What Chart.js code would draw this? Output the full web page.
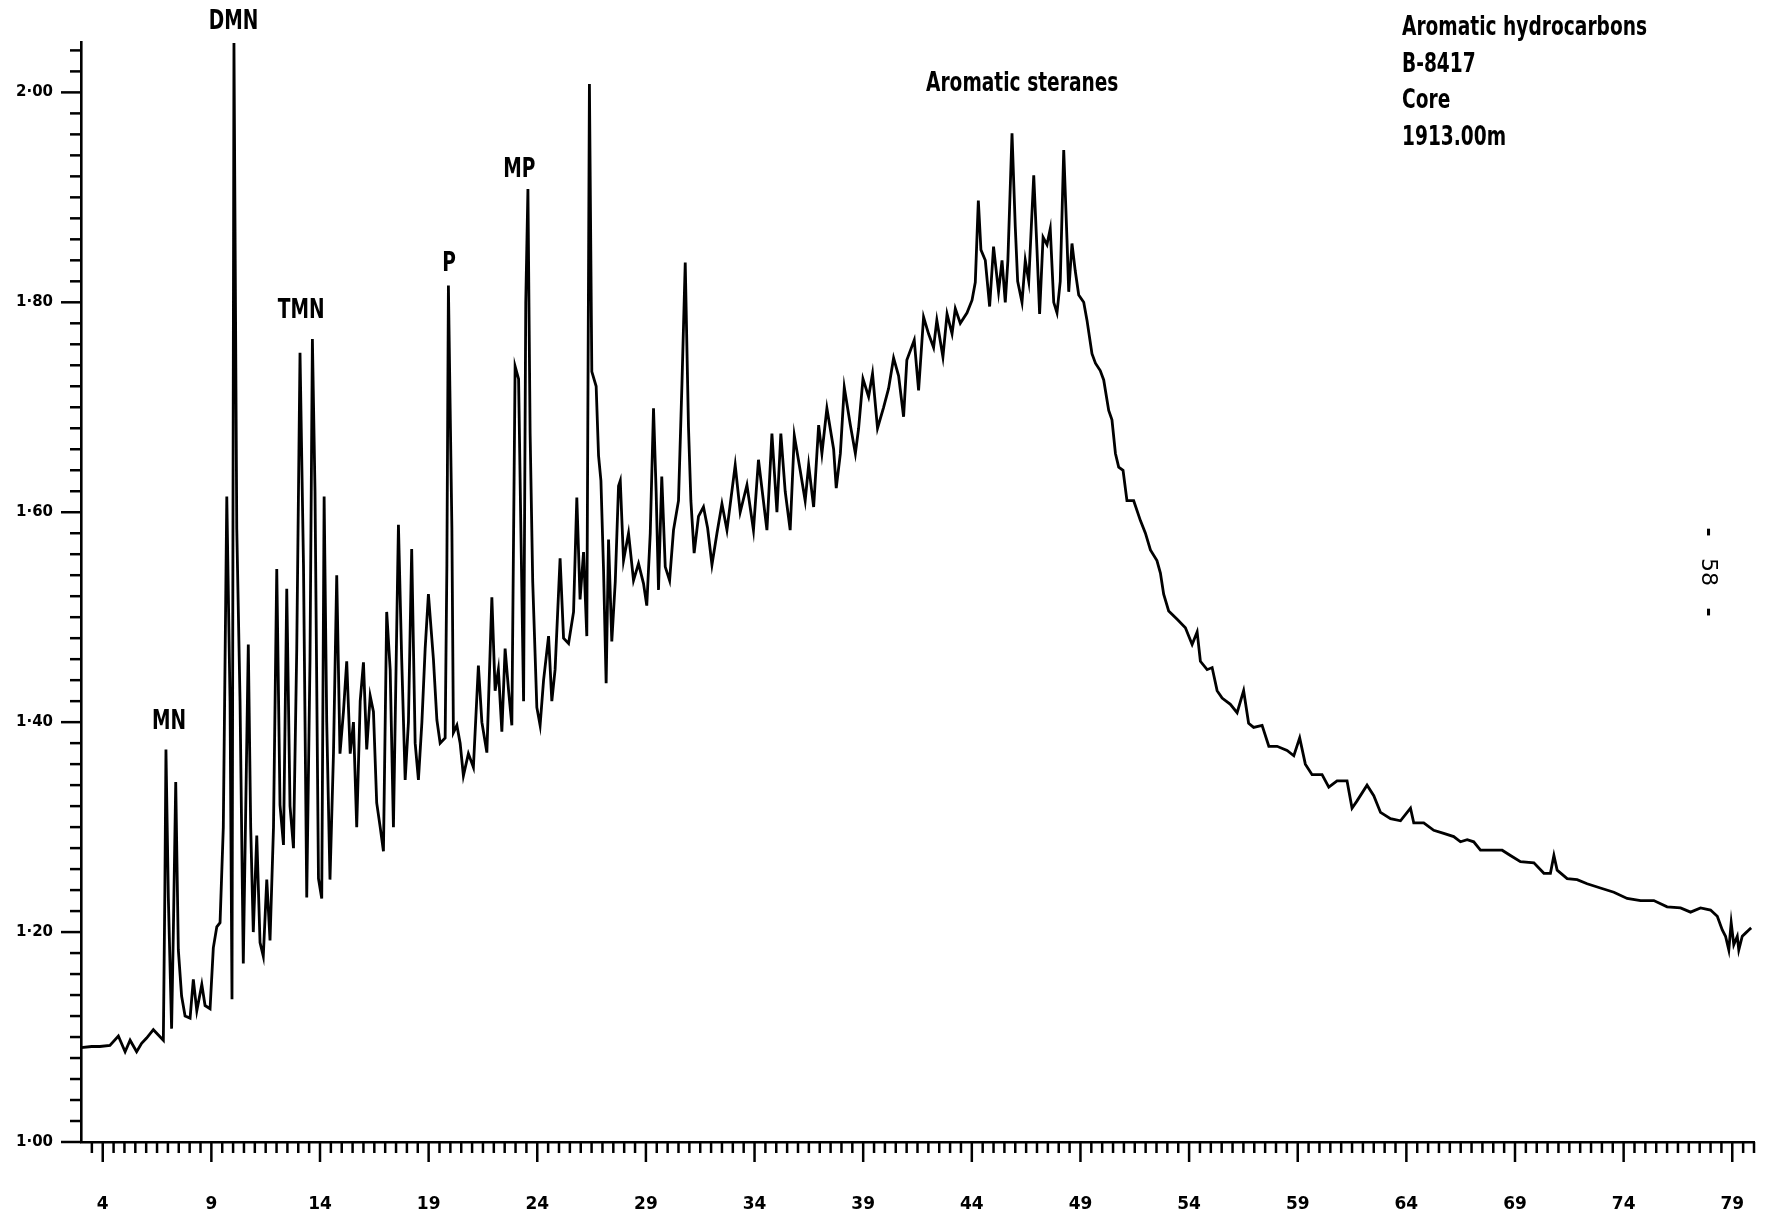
<!DOCTYPE html>
<html>
<head>
<meta charset="utf-8">
<title>Aromatic hydrocarbons B-8417</title>
<script src="https://cdn.jsdelivr.net/npm/chart.js@4.4.1/dist/chart.umd.min.js"></script>
<style>
    html, body { margin: 0; padding: 0; background: #fff; }
    #wrap { width: 1769px; height: 1217px; }
</style>
</head>
<body>
<div id="wrap"><canvas id="chart" width="1769" height="1217"></canvas></div>
<script>
const FONT = '"DejaVu Sans", "Liberation Sans", sans-serif';

// retention time (x axis units)
const retentionTimes = [
    3.00, 3.49, 3.87, 4.33, 4.72, 5.03, 5.26, 5.56, 5.79, 6.02, 6.33, 6.56, 6.79, 6.86, 6.91, 7.02, 7.17, 7.25, 7.36, 7.48,
    7.63, 7.79, 8.02, 8.17, 8.33, 8.56, 8.71, 8.94, 9.09, 9.25, 9.40, 9.55, 9.71, 9.86, 9.95, 10.04, 10.17, 10.32, 10.47, 10.70,
    10.81, 10.93, 11.09, 11.24, 11.39, 11.55, 11.70, 11.86, 12.01, 12.16, 12.32, 12.47, 12.62, 12.78, 12.93, 13.08, 13.24, 13.39, 13.54, 13.65,
    13.77, 13.93, 14.08, 14.19, 14.31, 14.46, 14.62, 14.77, 14.92, 15.08, 15.23, 15.39, 15.54, 15.69, 15.85, 16.00, 16.15, 16.31, 16.46, 16.61,
    16.77, 16.92, 17.07, 17.23, 17.38, 17.61, 17.76, 17.92, 18.07, 18.22, 18.38, 18.53, 18.69, 18.84, 18.99, 19.22, 19.38, 19.53, 19.76, 19.84,
    19.91, 19.99, 20.07, 20.14, 20.30, 20.45, 20.60, 20.83, 21.06, 21.29, 21.45, 21.68, 21.91, 22.06, 22.21, 22.37, 22.52, 22.68, 22.83, 22.98,
    23.14, 23.24, 23.37, 23.47, 23.57, 23.67, 23.79, 23.98, 24.13, 24.29, 24.52, 24.67, 24.82, 25.05, 25.21, 25.44, 25.67, 25.82, 25.97, 26.13,
    26.28, 26.40, 26.51, 26.71, 26.82, 26.93, 27.05, 27.17, 27.28, 27.43, 27.59, 27.74, 27.82, 27.97, 28.20, 28.43, 28.66, 28.89, 29.04, 29.20,
    29.35, 29.47, 29.58, 29.73, 29.89, 30.09, 30.27, 30.50, 30.66, 30.81, 30.96, 31.07, 31.22, 31.42, 31.65, 31.84, 32.04, 32.27, 32.50, 32.73,
    33.11, 33.34, 33.65, 33.95, 34.18, 34.57, 34.80, 35.03, 35.21, 35.41, 35.64, 35.83, 36.10, 36.33, 36.49, 36.72, 36.95, 37.10, 37.33, 37.64,
    37.76, 37.95, 38.13, 38.41, 38.64, 38.79, 38.99, 39.25, 39.43, 39.66, 39.94, 40.17, 40.40, 40.63, 40.86, 41.01, 41.35, 41.55, 41.78, 42.01,
    42.24, 42.39, 42.67, 42.86, 43.09, 43.24, 43.47, 43.78, 44.01, 44.16, 44.30, 44.42, 44.62, 44.82, 45.00, 45.23, 45.39, 45.54, 45.66, 45.85,
    46.00, 46.11, 46.31, 46.46, 46.62, 46.85, 47.00, 47.12, 47.28, 47.46, 47.61, 47.77, 47.92, 48.07, 48.23, 48.38, 48.46, 48.61, 48.76, 48.92,
    49.15, 49.30, 49.53, 49.69, 49.91, 50.07, 50.30, 50.45, 50.61, 50.76, 50.96, 51.14, 51.45, 51.76, 51.99, 52.22, 52.52, 52.68, 52.83, 53.06,
    53.45, 53.83, 54.14, 54.37, 54.52, 54.83, 55.06, 55.29, 55.52, 55.90, 56.21, 56.51, 56.74, 56.97, 57.36, 57.67, 58.05, 58.51, 58.82, 59.09,
    59.35, 59.66, 60.12, 60.43, 60.81, 61.27, 61.50, 61.73, 62.19, 62.50, 62.81, 63.27, 63.73, 64.19, 64.34, 64.80, 65.26, 65.72, 66.18, 66.49,
    66.80, 67.10, 67.41, 68.02, 68.41, 68.79, 69.25, 69.87, 70.33, 70.63, 70.79, 70.94, 71.40, 71.86, 72.32, 72.93, 73.55, 74.16, 74.78, 75.39,
    76.00, 76.62, 77.08, 77.54, 78.00, 78.31, 78.54, 78.69, 78.84, 78.95, 79.07, 79.23, 79.30, 79.46, 79.61, 79.76, 79.87
];

// detector response
const response = [
    1.090, 1.091, 1.091, 1.092, 1.101, 1.086, 1.097, 1.086, 1.094, 1.099, 1.107, 1.102, 1.097, 1.240, 1.374, 1.233, 1.108, 1.200, 1.343, 1.183,
    1.139, 1.120, 1.118, 1.155, 1.125, 1.150, 1.130, 1.127, 1.185, 1.205, 1.209, 1.300, 1.615, 1.420, 1.136, 2.047, 1.584, 1.420, 1.170, 1.474,
    1.300, 1.200, 1.292, 1.190, 1.177, 1.250, 1.192, 1.300, 1.546, 1.321, 1.283, 1.527, 1.320, 1.280, 1.470, 1.752, 1.550, 1.233, 1.460, 1.765,
    1.620, 1.251, 1.232, 1.615, 1.400, 1.250, 1.370, 1.540, 1.370, 1.410, 1.458, 1.370, 1.400, 1.300, 1.420, 1.457, 1.374, 1.425, 1.410, 1.323,
    1.300, 1.277, 1.505, 1.450, 1.300, 1.588, 1.460, 1.345, 1.400, 1.565, 1.380, 1.345, 1.400, 1.470, 1.522, 1.460, 1.402, 1.380, 1.385, 1.550,
    1.816, 1.700, 1.585, 1.390, 1.397, 1.380, 1.349, 1.370, 1.357, 1.454, 1.400, 1.371, 1.519, 1.430, 1.450, 1.391, 1.470, 1.430, 1.397, 1.739,
    1.727, 1.591, 1.420, 1.800, 1.908, 1.676, 1.534, 1.414, 1.397, 1.440, 1.482, 1.420, 1.450, 1.556, 1.480, 1.475, 1.505, 1.614, 1.517, 1.562,
    1.482, 2.008, 1.734, 1.720, 1.654, 1.630, 1.545, 1.437, 1.574, 1.477, 1.534, 1.625, 1.630, 1.554, 1.580, 1.535, 1.551, 1.532, 1.511, 1.580,
    1.699, 1.620, 1.526, 1.634, 1.548, 1.535, 1.583, 1.611, 1.723, 1.838, 1.681, 1.611, 1.561, 1.596, 1.605, 1.585, 1.550, 1.580, 1.608, 1.583,
    1.645, 1.600, 1.626, 1.583, 1.650, 1.583, 1.675, 1.600, 1.675, 1.620, 1.583, 1.673, 1.640, 1.611, 1.645, 1.605, 1.683, 1.656, 1.699, 1.660,
    1.623, 1.656, 1.719, 1.683, 1.656, 1.680, 1.727, 1.710, 1.732, 1.680, 1.700, 1.718, 1.747, 1.730, 1.691, 1.745, 1.764, 1.716, 1.786, 1.770,
    1.757, 1.783, 1.748, 1.789, 1.770, 1.794, 1.780, 1.790, 1.802, 1.819, 1.897, 1.850, 1.840, 1.796, 1.853, 1.810, 1.840, 1.800, 1.840, 1.961,
    1.872, 1.820, 1.800, 1.840, 1.820, 1.921, 1.850, 1.789, 1.862, 1.855, 1.870, 1.800, 1.790, 1.820, 1.945, 1.860, 1.810, 1.856, 1.830, 1.807,
    1.800, 1.783, 1.751, 1.742, 1.735, 1.726, 1.697, 1.688, 1.656, 1.643, 1.640, 1.611, 1.611, 1.592, 1.580, 1.564, 1.554, 1.542, 1.522, 1.506,
    1.498, 1.490, 1.474, 1.486, 1.458, 1.450, 1.452, 1.430, 1.423, 1.417, 1.409, 1.430, 1.399, 1.395, 1.397, 1.377, 1.377, 1.373, 1.368, 1.385,
    1.360, 1.350, 1.350, 1.338, 1.344, 1.344, 1.318, 1.325, 1.340, 1.330, 1.314, 1.308, 1.306, 1.318, 1.304, 1.304, 1.297, 1.294, 1.291, 1.286,
    1.288, 1.286, 1.278, 1.278, 1.278, 1.273, 1.267, 1.266, 1.256, 1.256, 1.273, 1.259, 1.251, 1.250, 1.246, 1.242, 1.238, 1.232, 1.230, 1.230,
    1.224, 1.223, 1.219, 1.223, 1.221, 1.215, 1.202, 1.196, 1.183, 1.209, 1.188, 1.196, 1.183, 1.196, 1.199, 1.202, 1.204
];

const xLabels = [4, 9, 14, 19, 24, 29, 34, 39, 44, 49, 54, 59, 64, 69, 74, 79];
const yLabels = [1.0, 1.2, 1.4, 1.6, 1.8, 2.0];

const peakNames = ['MN', 'DMN', 'TMN', 'P', 'MP', 'Aromatic steranes'];
const peakLabelX = [7.05, 10.02, 13.13, 19.94, 23.17, 46.32];
const peakLabelY = [1.403, 2.070, 1.794, 1.839, 1.929, 2.011];

const infoLines = ['Aromatic hydrocarbons', 'B-8417', 'Core', '1913.00m'];

const isMajorX = v => xLabels.some(l => Math.abs(l - v) < 1e-6);
const isMajorY = v => yLabels.some(l => Math.abs(l - v) < 1e-6);

const tickMarks = {
    id: 'tickMarks',
    afterDraw(chart) {
        const { ctx, scales: { x, y } } = chart;
        ctx.save();
        ctx.strokeStyle = '#000';
        ctx.lineWidth = 2.5;
        x.ticks.forEach(t => {
            const px = x.getPixelForValue(t.value);
            ctx.beginPath();
            ctx.moveTo(px, x.top);
            ctx.lineTo(px, x.top + (isMajorX(t.value) ? 20 : 11));
            ctx.stroke();
        });
        y.ticks.forEach(t => {
            const py = y.getPixelForValue(t.value);
            ctx.beginPath();
            ctx.moveTo(y.right, py);
            ctx.lineTo(y.right - (isMajorY(t.value) ? 20 : 11), py);
            ctx.stroke();
        });
        ctx.restore();
    }
};

// condensed bold lettering like the original plot
const squeezedText = (ctx, text, px, py, align) => {
    ctx.save();
    ctx.translate(px, py);
    ctx.scale(window.squeeze, 1);
    ctx.textAlign = align;
    ctx.fillText(text, 0, 0);
    ctx.restore();
};

const annotations = {
    id: 'annotations',
    afterDraw(chart) {
        const { ctx, scales: { x, y } } = chart;
        ctx.save();
        ctx.fillStyle = '#000';
        ctx.font = 'bold 26px ' + FONT;
        ctx.textBaseline = 'middle';
        window.squeeze = 245 / ctx.measureText(infoLines[0]).width;

        peakNames.forEach((name, i) => {
            squeezedText(ctx, name, x.getPixelForValue(peakLabelX[i]), y.getPixelForValue(peakLabelY[i]) + 3, 'center');
        });

        const infoTop = [28, 65, 101, 138];
        infoLines.forEach((line, i) => squeezedText(ctx, line, 1402, infoTop[i], 'left'));

        // page number down the right margin
        ctx.translate(1708, 572);
        ctx.rotate(Math.PI / 2);
        ctx.font = '22px ' + FONT;
        ctx.textAlign = 'center';
        ctx.fillText('58', 0, 0);
        ctx.font = 'bold 22px ' + FONT;
        ctx.fillText('-', -40, 0);
        ctx.fillText('-', 40, 0);
        ctx.restore();
    }
};

new Chart(document.getElementById('chart'), {
    type: 'line',
    data: {
        datasets: [{
            data: retentionTimes.map((t, i) => ({ x: t, y: response[i] })),
            borderColor: '#000',
            borderWidth: 2.8,
            pointRadius: 0,
            tension: 0,
            fill: false,
            clip: false
        }]
    },
    options: {
        responsive: false,
        animation: false,
        devicePixelRatio: 1,
        layout: { padding: { top: 42, right: 15, left: 0, bottom: 0 } },
        plugins: { legend: { display: false }, tooltip: { enabled: false } },
        scales: {
            x: {
                type: 'linear',
                min: 3,
                max: 80,
                afterBuildTicks: scale => {
                    const ticks = [];
                    for (let v = 3.5; v <= 80.001; v += 0.5) ticks.push({ value: Math.round(v * 10) / 10 });
                    scale.ticks = ticks;
                },
                afterFit: scale => {
                    scale.height = 75;
                    scale.paddingLeft = 0;
                    scale.paddingRight = 0;
                },
                grid: { display: true, drawOnChartArea: false, drawTicks: false, color: 'rgba(0,0,0,0)' },
                border: { display: true, color: '#000', width: 2.6 },
                ticks: {
                    autoSkip: false,
                    maxRotation: 0,
                    padding: 52,
                    color: '#000',
                    font: { family: FONT, size: 17, weight: 'bold' },
                    callback: v => isMajorX(v) ? String(Math.round(v)) : ''
                }
            },
            y: {
                type: 'linear',
                min: 1.0,
                max: 2.048,
                afterBuildTicks: scale => {
                    const ticks = [];
                    for (let i = 0; i <= 52; i++) ticks.push({ value: Math.round((1 + i * 0.02) * 100) / 100 });
                    scale.ticks = ticks;
                },
                afterFit: scale => { scale.width = 81; },
                grid: { display: true, drawOnChartArea: false, drawTicks: false, color: 'rgba(0,0,0,0)' },
                border: { display: true, color: '#000', width: 2.6 },
                ticks: {
                    autoSkip: false,
                    padding: 28,
                    color: '#000',
                    font: { family: FONT, size: 15, weight: 'bold' },
                    callback: v => isMajorY(v) ? v.toFixed(2).replace('.', '·') : ''
                }
            }
        }
    },
    plugins: [tickMarks, annotations]
});
</script>
</body>
</html>
